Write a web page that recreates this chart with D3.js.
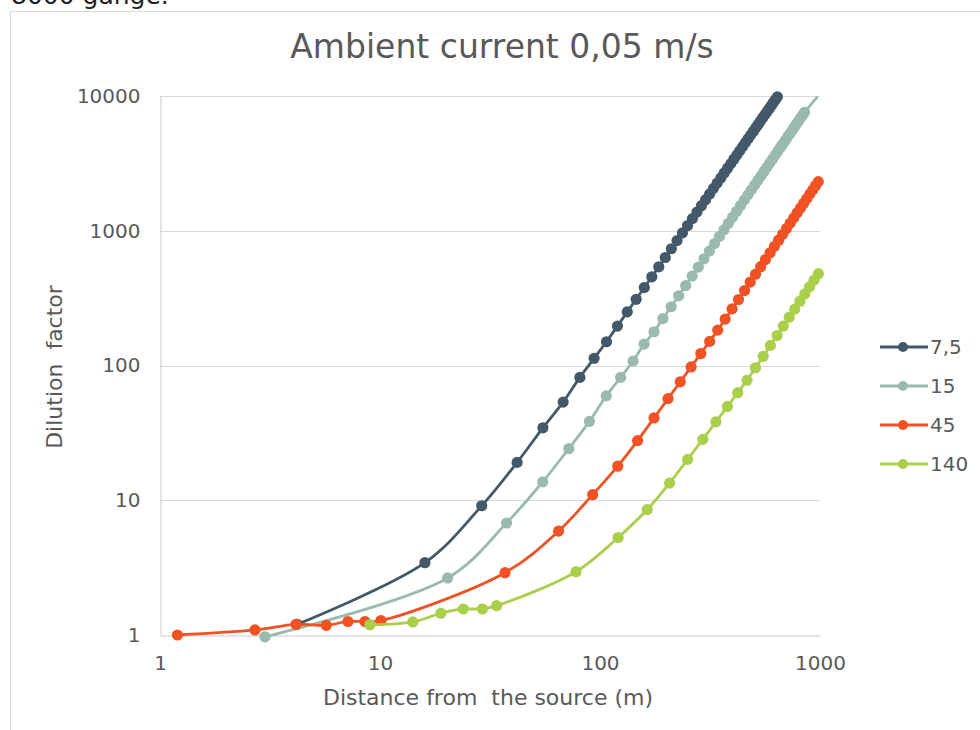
<!DOCTYPE html>
<html>
<head>
<meta charset="utf-8">
<script src="https://cdn.jsdelivr.net/npm/d3@7"></script>
<style>
  html, body { margin: 0; padding: 0; background: #ffffff; }
  svg { display: block; }
  text { font-family: "DejaVu Sans", Verdana, sans-serif; }
</style>
</head>
<body>
<svg id="chart" width="980" height="730"></svg>
<script>
// Dilution factor vs. distance from the source, ambient current 0,05 m/s
const seriesNames = ["7,5", "15", "45", "140"];
const seriesColors = ["#43596a", "#9bbaaf", "#f05224", "#a9cf4b"];

const dist75 = [4.2, 16, 29, 42, 55, 68, 81, 94, 107, 120, 133, 146, 159, 172, 185, 198, 211, 224, 237, 250,
  263, 276, 289, 302, 315, 328, 341, 354, 367, 380, 393, 406, 419, 432, 445, 458, 471, 484, 497, 510,
  523, 536, 549, 562, 575, 588, 601, 614, 627, 640];
const dil75 = [1.2, 3.44, 9.1, 19.1, 34.5, 53.5, 81.6, 113, 150, 196, 250, 310, 379, 455, 540, 633, 735, 845, 964, 1093,
  1231, 1377, 1534, 1700, 1876, 2063, 2260, 2466, 2684, 2911, 3150, 3398, 3658, 3930, 4213, 4506, 4810, 5125, 5457, 5797,
  6146, 6510, 6887, 7270, 7674, 8085, 8511, 8950, 9397, 9858];

const dist15 = [3, 20.3, 37.6, 54.9, 72.2, 89.5, 106.8, 124.1, 141.4, 158.7, 176, 193.3, 210.6, 227.9, 245.2, 262.5,
  279.8, 297.1, 314.4, 331.7, 349, 366.3, 383.6, 400.9, 418.2, 435.5, 452.8, 470.1, 487.4, 504.7, 522, 539.3,
  556.6, 573.9, 591.2, 608.5, 625.8, 643.1, 660.4, 677.7, 695, 712.3, 729.6, 746.9, 764.2, 781.5, 798.8, 816.1,
  833.4, 850.7];
const dil15 = [0.97, 2.65, 6.78, 13.7, 24.2, 38.5, 59.5, 81.6, 108, 144, 178, 223, 273, 329, 392, 461,
  537, 619, 708, 804, 908, 1018, 1137, 1263, 1396, 1538, 1687, 1845, 2011, 2184, 2367, 2557,
  2757, 2965, 3183, 3410, 3643, 3890, 4142, 4404, 4679, 4960, 5252, 5554, 5863, 6184, 6513, 6858,
  7207, 7568];
// the 15 series runs on past its last marked point
const dist15Tail = [975];
const dil15Tail = [9900];

const dist45 = [1.2, 2.7, 4.15, 5.7, 7.15, 8.55, 10.1, 37, 64.8, 92.6, 120.4, 148.2, 176, 203.8, 231.6, 259.4,
  287.2, 315, 342.8, 370.6, 398.4, 426.2, 454, 481.8, 509.6, 537.4, 565.2, 593, 620.8, 648.6, 676.4, 704.2,
  732, 759.8, 787.6, 815.4, 843.2, 871, 898.8, 926.6, 954.4, 982.2];
const dil45 = [1.0, 1.09, 1.2, 1.18, 1.26, 1.26, 1.28, 2.9, 5.9, 11.0, 17.9, 27.7, 40.8, 56.8, 75.7, 97.6,
  122.7, 151, 183, 221, 263, 309, 360, 416, 476, 541, 611, 686, 766, 851, 942, 1038,
  1139, 1246, 1359, 1477, 1602, 1732, 1869, 2011, 2159, 2314];

const dist140 = [9.0, 14.1, 18.9, 23.9, 29.2, 33.9, 77.8, 120.9, 164, 207.1, 250.2, 293.3, 336.4, 379.5,
  422.6, 465.7, 508.8, 551.9, 595, 638.1, 681.2, 724.3, 767.4, 810.5, 853.6, 896.7, 939.8, 982.9];
const dil140 = [1.19, 1.25, 1.45, 1.56, 1.56, 1.65, 2.95, 5.29, 8.53, 13.4, 20.1, 28.3, 38.2, 49.7,
  62.8, 77.7, 96.2, 117, 141, 167, 196, 228, 262, 300, 340, 384, 430, 480];

const xTicks = [1, 10, 100, 1000];
const yTicks = [1, 10, 100, 1000, 10000];

const zip = (xs, ys) => xs.map((x, i) => ({ x, y: ys[i] }));
const series = [
  { name: seriesNames[0], color: seriesColors[0], marked: zip(dist75, dil75), tail: [] },
  { name: seriesNames[1], color: seriesColors[1], marked: zip(dist15, dil15), tail: zip(dist15Tail, dil15Tail) },
  { name: seriesNames[2], color: seriesColors[2], marked: zip(dist45, dil45), tail: [] },
  { name: seriesNames[3], color: seriesColors[3], marked: zip(dist140, dil140), tail: [] }
];

const svg = d3.select("#chart");
const plot = { left: 160, right: 820, top: 96, bottom: 635 };
const markerR = 5.6;
const lineW = 2.8;

const x = d3.scaleLog().domain([1, 1000]).range([plot.left, plot.right]);
const y = d3.scaleLog().domain([1, 10000]).range([plot.bottom, plot.top]);

// page text above the chart frame
svg.append("text")
  .attr("x", 11).attr("y", 4)
  .attr("font-size", 25).attr("fill", "#222")
  .text("8000 gange.");

// chart frame
svg.append("rect")
  .attr("x", 10.5).attr("y", 11.5)
  .attr("width", 1000).attr("height", 800)
  .attr("fill", "none").attr("stroke", "#d9d9d9").attr("stroke-width", 1);

// title
svg.append("text")
  .attr("x", 502).attr("y", 58)
  .attr("text-anchor", "middle")
  .attr("font-size", 33).attr("fill", "#595959")
  .text("Ambient current 0,05 m/s");

// horizontal gridlines
svg.append("g").selectAll("line")
  .data(yTicks.filter(d => d > 1))
  .join("line")
  .attr("x1", plot.left).attr("x2", plot.right)
  .attr("y1", d => Math.round(y(d)) + 0.5).attr("y2", d => Math.round(y(d)) + 0.5)
  .attr("stroke", "#d9d9d9").attr("stroke-width", 1);

// axes
const yAxis = d3.axisLeft(y).tickValues(yTicks).tickFormat(d3.format("d")).tickSize(0).tickPadding(20);
const gy = svg.append("g").attr("transform", `translate(${plot.left + 0.5},0)`).call(yAxis);
gy.select(".domain").attr("stroke", "#c8c8c8").attr("stroke-width", 1);
gy.selectAll("text").attr("font-size", 20).attr("fill", "#595959")
  .attr("font-family", "'DejaVu Sans', Verdana, sans-serif");

const xAxis = d3.axisBottom(x).tickValues(xTicks).tickFormat(d3.format("d")).tickSize(0).tickPadding(20);
const gx = svg.append("g").attr("transform", `translate(0,${plot.bottom + 0.5})`).call(xAxis);
gx.select(".domain").attr("stroke", "#c8c8c8").attr("stroke-width", 1);
gx.selectAll("text").attr("font-size", 20).attr("fill", "#595959")
  .attr("font-family", "'DejaVu Sans', Verdana, sans-serif");

// axis titles
svg.append("text")
  .attr("x", 488).attr("y", 705)
  .attr("text-anchor", "middle")
  .attr("font-size", 22).attr("fill", "#595959")
  .style("white-space", "pre")
  .text("Distance from  the source (m)");

svg.append("text")
  .attr("transform", "translate(62,367) rotate(-90)")
  .attr("text-anchor", "middle")
  .attr("font-size", 22).attr("fill", "#595959")
  .style("white-space", "pre")
  .text("Dilution  factor");

// series: smoothed lines with circular markers
const line = d3.line()
  .x(d => x(d.x)).y(d => y(d.y))
  .curve(d3.curveCatmullRom.alpha(0.5));

const gSeries = svg.append("g");
series.forEach(s => {
  const g = gSeries.append("g");
  g.append("path")
    .datum(s.marked.concat(s.tail))
    .attr("d", line)
    .attr("fill", "none")
    .attr("stroke", s.color)
    .attr("stroke-width", lineW)
    .attr("stroke-linejoin", "round");
  g.selectAll("circle")
    .data(s.marked)
    .join("circle")
    .attr("cx", d => x(d.x)).attr("cy", d => y(d.y))
    .attr("r", markerR)
    .attr("fill", s.color);
});

// legend
const legend = svg.append("g");
series.forEach((s, i) => {
  const ly = 347 + i * 39;
  legend.append("line")
    .attr("x1", 880).attr("x2", 928).attr("y1", ly).attr("y2", ly)
    .attr("stroke", s.color).attr("stroke-width", lineW);
  legend.append("circle")
    .attr("cx", 903).attr("cy", ly).attr("r", 5).attr("fill", s.color);
  legend.append("text")
    .attr("x", 930).attr("y", ly + 7)
    .attr("font-size", 20).attr("fill", "#595959")
    .text(s.name);
});
</script>
</body>
</html>
